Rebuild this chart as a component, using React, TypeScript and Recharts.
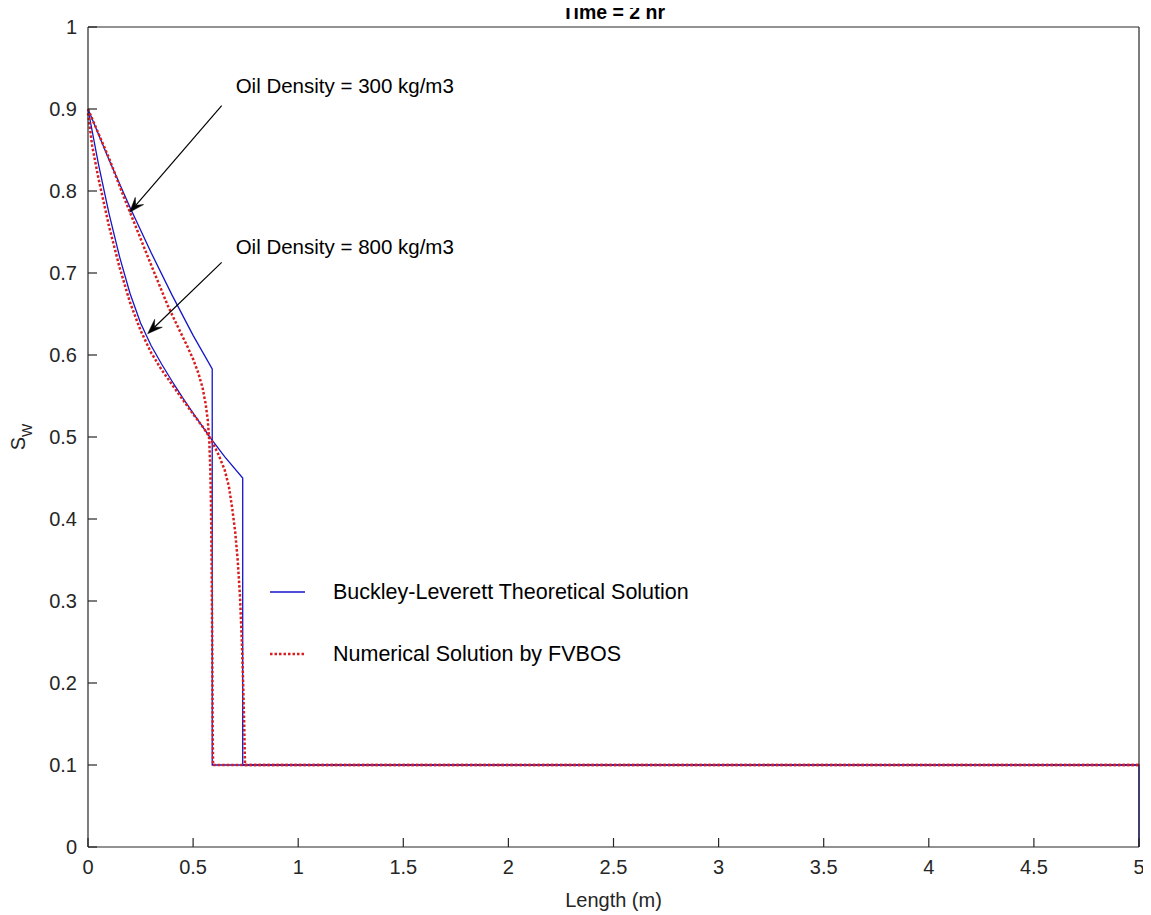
import React from 'react';
import { LineChart, Line, XAxis, YAxis, ReferenceLine, ReferenceDot, Legend } from 'recharts';

const FONT = '"Liberation Sans", Arial, Helvetica, sans-serif';
const AXIS = '#262626';
const BLUE = '#1515c8';
const RED = '#d81e1e';

const xTicks = [0, 0.5, 1, 1.5, 2, 2.5, 3, 3.5, 4, 4.5, 5];
const yTicks = [0, 0.1, 0.2, 0.3, 0.4, 0.5, 0.6, 0.7, 0.8, 0.9, 1];

// Buckley-Leverett theoretical, oil density 300 kg/m3
const theory300 = [
  { x: 0, y: 0.9 }, { x: 0.1, y: 0.838 }, { x: 0.2, y: 0.78 }, { x: 0.3, y: 0.725 },
  { x: 0.4, y: 0.673 }, { x: 0.5, y: 0.624 }, { x: 0.591, y: 0.583 },
  { x: 0.591, y: 0.1 }, { x: 5, y: 0.1 }, { x: 5, y: 0 },
];

// Buckley-Leverett theoretical, oil density 800 kg/m3
const theory800 = [
  { x: 0, y: 0.9 }, { x: 0.05, y: 0.8325 }, { x: 0.1, y: 0.7725 }, { x: 0.15, y: 0.72 },
  { x: 0.2, y: 0.675 }, { x: 0.25, y: 0.639 }, { x: 0.3, y: 0.6115 }, { x: 0.35, y: 0.589 },
  { x: 0.4, y: 0.568 }, { x: 0.45, y: 0.548 }, { x: 0.5, y: 0.529 }, { x: 0.585, y: 0.498 },
  { x: 0.65, y: 0.476 }, { x: 0.736, y: 0.45 }, { x: 0.736, y: 0.1 }, { x: 5, y: 0.1 },
];

// FVBOS numerical, oil density 300 kg/m3
const numeric300 = [
  { x: 0, y: 0.9 }, { x: 0.05, y: 0.87 }, { x: 0.1, y: 0.84 }, { x: 0.167, y: 0.795 },
  { x: 0.25, y: 0.742 }, { x: 0.3, y: 0.71 }, { x: 0.38, y: 0.66 }, { x: 0.43, y: 0.633 },
  { x: 0.47, y: 0.612 }, { x: 0.5, y: 0.595 }, { x: 0.525, y: 0.578 }, { x: 0.545, y: 0.56 },
  { x: 0.56, y: 0.54 }, { x: 0.57, y: 0.52 }, { x: 0.577, y: 0.495 }, { x: 0.582, y: 0.46 },
  { x: 0.585, y: 0.42 }, { x: 0.588, y: 0.35 }, { x: 0.591, y: 0.25 }, { x: 0.593, y: 0.15 },
  { x: 0.595, y: 0.1 }, { x: 5, y: 0.1 },
];

// FVBOS numerical, oil density 800 kg/m3
const numeric800 = [
  { x: 0, y: 0.895 }, { x: 0.02, y: 0.855 }, { x: 0.05, y: 0.815 }, { x: 0.1, y: 0.757 },
  { x: 0.15, y: 0.707 }, { x: 0.2, y: 0.664 }, { x: 0.25, y: 0.63 }, { x: 0.3, y: 0.603 },
  { x: 0.35, y: 0.582 }, { x: 0.43, y: 0.553 }, { x: 0.5, y: 0.528 }, { x: 0.55, y: 0.511 },
  { x: 0.585, y: 0.497 }, { x: 0.62, y: 0.479 }, { x: 0.65, y: 0.46 }, { x: 0.67, y: 0.44 },
  { x: 0.685, y: 0.415 }, { x: 0.7, y: 0.385 }, { x: 0.712, y: 0.35 }, { x: 0.723, y: 0.306 },
  { x: 0.732, y: 0.25 }, { x: 0.738, y: 0.2 }, { x: 0.743, y: 0.15 }, { x: 0.747, y: 0.1 },
  { x: 5, y: 0.1 },
];

const titleText = 'Time = 2 hr';
const titleAnchor = { x: 2.5, y: 1 };

const annotationLabels = ['Oil Density = 300 kg/m3', 'Oil Density = 800 kg/m3'];
const annotationText = [{ x: 0.7025, y: 0.919 }, { x: 0.7025, y: 0.7237 }];
const annotationArrows = [
  [{ x: 0.636, y: 0.904 }, { x: 0.198, y: 0.774 }],
  [{ x: 0.636, y: 0.713 }, { x: 0.284, y: 0.626 }],
];

const legendItems = [
  { label: 'Buckley-Leverett Theoretical Solution', color: BLUE, dash: undefined as string | undefined, width: 1.3 },
  { label: 'Numerical Solution by FVBOS', color: RED, dash: '2.5 2', width: 2.5 },
];

const ArrowShape = (p: any) => {
  const { x1, y1, x2, y2 } = p;
  const dx = x2 - x1;
  const dy = y2 - y1;
  const len = Math.hypot(dx, dy) || 1;
  const ux = dx / len;
  const uy = dy / len;
  const L = 15;
  const W = 5.5;
  const bx = x2 - ux * L;
  const by = y2 - uy * L;
  const nx = -uy;
  const ny = ux;
  const mx = x2 - ux * L * 0.62;
  const my = y2 - uy * L * 0.62;
  return (
    <g>
      <line x1={x1} y1={y1} x2={mx} y2={my} stroke="#000" strokeWidth={1.2} />
      <polygon
        points={`${x2},${y2} ${bx + nx * W},${by + ny * W} ${mx},${my} ${bx - nx * W},${by - ny * W}`}
        fill="#000"
        stroke="#000"
        strokeWidth={0.5}
      />
    </g>
  );
};

const LegendContent = () => (
  <div style={{ fontFamily: FONT, fontSize: 21.5, color: '#000' }}>
    {legendItems.map((it, i) => (
      <div key={i} style={{ display: 'flex', alignItems: 'center', height: 30, marginBottom: 32 }}>
        <svg width={35} height={10} style={{ marginRight: 28 }}>
          <line x1={0} y1={5} x2={35} y2={5} stroke={it.color} strokeWidth={it.width} strokeDasharray={it.dash} />
        </svg>
        <span style={{ whiteSpace: 'nowrap' }}>{it.label}</span>
      </div>
    ))}
  </div>
);

export default function App() {
  return (
    <div style={{ width: 1143, height: 915, marginTop: -8 }}>
      <LineChart width={1143} height={915} margin={{ top: 26, right: 11, bottom: 28, left: 20 }} style={{ overflow: 'visible' }}>
        <XAxis
          xAxisId="b"
          type="number"
          dataKey="x"
          domain={[0, 5]}
          ticks={xTicks}
          height={40}
          tickSize={-9}
          tickMargin={22}
          stroke={AXIS}
          axisLine={{ stroke: AXIS, strokeWidth: 1.2 }}
          tickLine={{ stroke: AXIS, strokeWidth: 1.2 }}
          tick={{ fill: AXIS, fontSize: 20, fontFamily: FONT }}
          interval={0}
          label={{
            content: (p: any) => {
              const vb = p.viewBox;
              return (
                <text x={vb.x + vb.width / 2} y={vb.y + 60} textAnchor="middle" fill={AXIS} fontSize={20} fontFamily={FONT}>
                  Length (m)
                </text>
              );
            },
          }}
        />
        <XAxis
          xAxisId="t"
          orientation="top"
          type="number"
          domain={[0, 5]}
          ticks={xTicks}
          height={1}
          tickSize={-9}
          tick={false}
          axisLine={{ stroke: AXIS, strokeWidth: 1.2 }}
          tickLine={{ stroke: AXIS, strokeWidth: 1.2 }}
          interval={0}
        />
        <YAxis
          yAxisId="l"
          type="number"
          domain={[0, 1]}
          ticks={yTicks}
          width={60}
          tickSize={-9}
          tickMargin={20}
          axisLine={{ stroke: AXIS, strokeWidth: 1.2 }}
          tickLine={{ stroke: AXIS, strokeWidth: 1.2 }}
          tick={{ fill: AXIS, fontSize: 20, fontFamily: FONT }}
          interval={0}
          label={{
            content: (p: any) => {
              const vb = p.viewBox;
              const cx = vb.x - 3;
              const cy = vb.y + vb.height / 2;
              return (
                <text x={cx} y={cy} transform={`rotate(-90, ${cx}, ${cy})`} textAnchor="middle" fill={AXIS} fontSize={20} fontFamily={FONT}>
                  S<tspan dy={7} fontSize={14}>W</tspan>
                </text>
              );
            },
          }}
        />
        <YAxis
          yAxisId="r"
          orientation="right"
          type="number"
          domain={[0, 1]}
          ticks={yTicks}
          width={1}
          tickSize={-9}
          tick={false}
          axisLine={{ stroke: AXIS, strokeWidth: 1.2 }}
          tickLine={{ stroke: AXIS, strokeWidth: 1.2 }}
          interval={0}
        />
        <Line data={theory300} dataKey="y" xAxisId="b" yAxisId="l" type="linear" stroke={BLUE} strokeWidth={1.3} dot={false} activeDot={false} isAnimationActive={false} name="Buckley-Leverett Theoretical Solution" />
        <Line data={theory800} dataKey="y" xAxisId="b" yAxisId="l" type="linear" stroke={BLUE} strokeWidth={1.3} dot={false} activeDot={false} isAnimationActive={false} legendType="none" />
        <Line data={numeric300} dataKey="y" xAxisId="b" yAxisId="l" type="linear" stroke={RED} strokeWidth={2.5} strokeDasharray="2.5 2" dot={false} activeDot={false} isAnimationActive={false} name="Numerical Solution by FVBOS" />
        <Line data={numeric800} dataKey="y" xAxisId="b" yAxisId="l" type="linear" stroke={RED} strokeWidth={2.5} strokeDasharray="2.5 2" dot={false} activeDot={false} isAnimationActive={false} legendType="none" />
        {annotationArrows.map((seg, i) => (
          <ReferenceLine key={`a${i}`} xAxisId="b" yAxisId="l" segment={seg} shape={ArrowShape} ifOverflow="visible" />
        ))}
        {annotationText.map((pt, i) => (
          <ReferenceDot
            key={`t${i}`}
            xAxisId="b"
            yAxisId="l"
            x={pt.x}
            y={pt.y}
            r={0}
            ifOverflow="visible"
            shape={(p: any) => (
              <text x={p.cx} y={p.cy} fill="#000" fontSize={20.5} fontFamily={FONT}>
                {annotationLabels[i]}
              </text>
            )}
          />
        ))}
        <ReferenceDot
          xAxisId="b"
          yAxisId="l"
          x={titleAnchor.x}
          y={titleAnchor.y}
          r={0}
          ifOverflow="visible"
          shape={(p: any) => (
            <text x={p.cx} y={p.cy - 8} textAnchor="middle" fill="#000" fontSize={19.5} fontWeight="bold" fontFamily={FONT}>
              {titleText}
            </text>
          )}
        />
        <Legend
          layout="vertical"
          align="center"
          verticalAlign="middle"
          content={LegendContent}
          wrapperStyle={{ left: 262, top: 577, width: 'auto', height: 'auto' }}
        />
      </LineChart>
    </div>
  );
}
